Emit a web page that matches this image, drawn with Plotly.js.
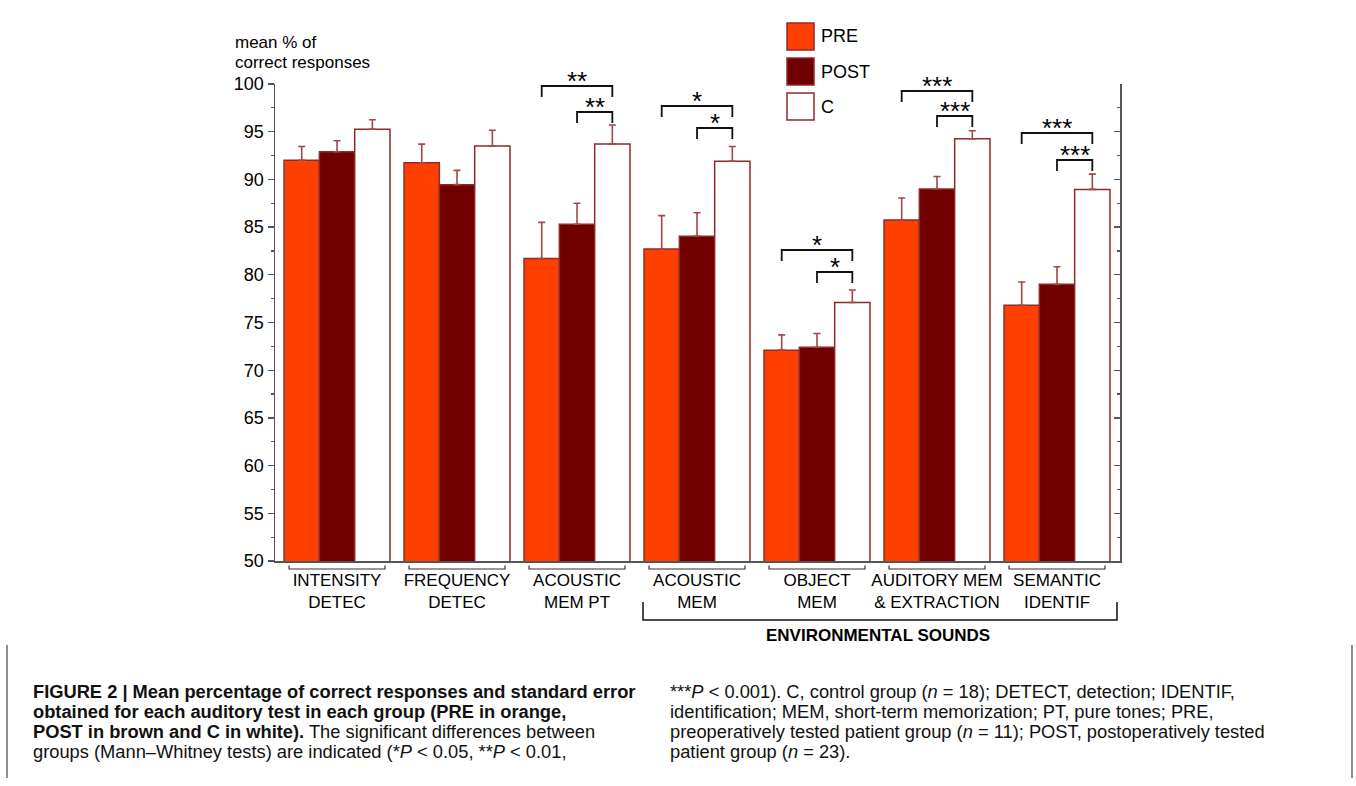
<!DOCTYPE html>
<html>
<head>
<meta charset="utf-8">
<script src="https://cdn.plot.ly/plotly-3.0.1.min.js"></script>
<style>
html,body{margin:0;padding:0;background:#fff;}
#chart{width:1356px;height:786px;}
</style>
</head>
<body>
<div id="chart"></div>
<script>
// ---------------- DATA ----------------
var categories = [
  "INTENSITY<br>DETEC",
  "FREQUENCY<br>DETEC",
  "ACOUSTIC<br>MEM PT",
  "ACOUSTIC<br>MEM",
  "OBJECT<br>MEM",
  "AUDITORY MEM<br>& EXTRACTION",
  "SEMANTIC<br>IDENTIF"
];
var seriesNames = ["PRE", "POST", "C"];
var preMean  = [92.0, 91.75, 81.7, 82.7, 72.1, 85.75, 76.8];
var preSE    = [1.45, 1.95, 3.8, 3.5, 1.6, 2.3, 2.45];
var postMean = [92.9, 89.45, 85.3, 84.05, 72.4, 89.0, 79.0];
var postSE   = [1.15, 1.5, 2.2, 2.45, 1.45, 1.3, 1.85];
var cMean    = [95.25, 93.5, 93.7, 91.9, 77.1, 94.25, 88.95];
var cSE      = [1.0, 1.65, 2.0, 1.55, 1.3, 0.85, 1.6];
// significance: category index, from series index, to series index, label
var sigCategory = [2, 2, 3, 3, 4, 4, 5, 5, 6, 6];
var sigFrom     = [0, 1, 0, 1, 0, 1, 0, 1, 0, 1];
var sigTo       = [2, 2, 2, 2, 2, 2, 2, 2, 2, 2];
var sigLabel    = ["**", "**", "*", "*", "*", "*", "***", "***", "***", "***"];
var groupLabel  = "ENVIRONMENTAL SOUNDS";
var groupStart  = 3, groupEnd = 6;
var yTitleLines = ["mean % of", "correct responses"];
var captionLeft = [
  "<b>FIGURE 2 | Mean percentage of correct responses and standard error</b>",
  "<b>obtained for each auditory test in each group (PRE in orange,</b>",
  "<b>POST in brown and C in white).</b> The significant differences between",
  "groups (Mann\u2013Whitney tests) are indicated (*<i>P</i> < 0.05, **<i>P</i> < 0.01,"
];
var captionRight = [
  "***<i>P</i> < 0.001). C, control group (<i>n</i> = 18); DETECT, detection; IDENTIF,",
  "identification; MEM, short-term memorization; PT, pure tones; PRE,",
  "preoperatively tested patient group (<i>n</i> = 11); POST, postoperatively tested",
  "patient group (<i>n</i> = 23)."
];

// ---------------- LAYOUT GEOMETRY ----------------
var W = 1356, H = 786;
var L = 275, R = 1120, T = 84, B = 561;
function px(x){ return (x - L) / (R - L); }
function py(y){ return (B - y) / (B - T); }
var bargap = 0.117;
var barW = (1 - bargap) / 3;
function barX(cat, s){ return cat + (s - 1) * barW; }

var idx = categories.map(function(_, i){ return i; });
var fills = ["#ff4000", "#700000", "#ffffff"];
var edge = "#8e2a2a";
var errCol = "#a34646";
var means = [preMean, postMean, cMean];
var ses = [preSE, postSE, cSE];

var traces = seriesNames.map(function(name, s){
  return {
    type: "bar",
    name: name,
    x: idx,
    y: means[s],
    base: 0,
    marker: {color: fills[s], line: {color: edge, width: 1.5}},
    error_y: {type: "data", symmetric: false, array: ses[s],
              arrayminus: ses[s].map(function(){ return 0; }),
              color: errCol, thickness: 1.6, width: 3.5},
    showlegend: false,
    hoverinfo: "y"
  };
});
traces.push({type: "scatter", x: [null], y: [null], yaxis: "y2", showlegend: false, hoverinfo: "skip"});

var shapes = [], annotations = [];
var font = "Liberation Sans, Arial, sans-serif";

// bracket levels (pixel y of horizontal line) for each significance entry
var sigLevels = [86, 112, 106, 128, 250, 272, 91, 116, 133, 160];
var drop = 11;
sigCategory.forEach(function(c, k){
  var x0 = barX(c, sigFrom[k]), x1 = barX(c, sigTo[k]);
  var yl = py(sigLevels[k]), yd = py(sigLevels[k] + drop);
  shapes.push({type: "path", xref: "x", yref: "paper",
    path: "M" + x0 + "," + yd + " L" + x0 + "," + yl + " L" + x1 + "," + yl + " L" + x1 + "," + yd,
    line: {color: "#111", width: 1.8}});
  annotations.push({xref: "x", yref: "paper", x: (x0 + x1) / 2, y: yl, yanchor: "bottom",
    yshift: -12, text: sigLabel[k], showarrow: false,
    font: {family: font, size: 26, color: "#000"}});
});

// small brackets under each category
idx.forEach(function(c){
  var x0 = c - 0.4, x1 = c + 0.4;
  var yb = py(569), yt = py(565.5);
  shapes.push({type: "path", xref: "x", yref: "paper",
    path: "M" + x0 + "," + yt + " L" + x0 + "," + yb + " L" + x1 + "," + yb + " L" + x1 + "," + yt,
    line: {color: "#333", width: 1.2}});
});

// environmental sounds bracket
(function(){
  var x0 = groupStart - 0.45, x1 = groupEnd + 0.5;
  var yb = py(620), yt = py(602);
  shapes.push({type: "path", xref: "x", yref: "paper",
    path: "M" + x0 + "," + yt + " L" + x0 + "," + yb + " L" + x1 + "," + yb + " L" + x1 + "," + yt,
    line: {color: "#111", width: 1.5}});
  annotations.push({xref: "x", yref: "paper", x: (x0 + x1) / 2 - 0.02, y: py(635), yanchor: "middle",
    text: "<b>" + groupLabel + "</b>", showarrow: false,
    font: {family: font, size: 17, color: "#000"}});
})();

// y title (two lines)
yTitleLines.forEach(function(t, i){
  annotations.push({xref: "paper", yref: "paper", x: px(233), y: py(43 + i * 19),
    xanchor: "left", yanchor: "middle", text: t, showarrow: false,
    font: {family: font, size: 17, color: "#000"}});
});

// custom legend
seriesNames.forEach(function(n, s){
  var top = [23, 58, 93][s];
  shapes.push({type: "rect", xref: "paper", yref: "paper",
    x0: px(787), x1: px(814), y0: py(top), y1: py(top + 27),
    fillcolor: fills[s], line: {color: edge, width: 1.5}});
  annotations.push({xref: "paper", yref: "paper", x: px(819), y: py(top + 13.5),
    xanchor: "left", yanchor: "middle", text: n, showarrow: false,
    font: {family: font, size: 18, color: "#000"}});
});

// caption
var capFont = "Liberation Sans Narrow, Arial Narrow, Liberation Sans, sans-serif";
captionLeft.forEach(function(t, i){
  annotations.push({xref: "paper", yref: "paper", x: px(31), y: py(691 + i * 20),
    xanchor: "left", yanchor: "middle", text: t, showarrow: false, align: "left",
    font: {family: capFont, size: 18.3, color: "#111"}});
});
captionRight.forEach(function(t, i){
  annotations.push({xref: "paper", yref: "paper", x: px(668), y: py(691 + i * 20),
    xanchor: "left", yanchor: "middle", text: t, showarrow: false, align: "left",
    font: {family: capFont, size: 18.3, color: "#111"}});
});
// caption frame side lines
shapes.push({type: "line", xref: "paper", yref: "paper", x0: px(7), x1: px(7), y0: py(645), y1: py(778), line: {color: "#444", width: 1.2}});
shapes.push({type: "line", xref: "paper", yref: "paper", x0: px(1352), x1: px(1352), y0: py(645), y1: py(778), line: {color: "#444", width: 1.2}});

var layout = {
  width: W, height: H,
  margin: {l: L, r: W - R, t: T, b: H - B, pad: 0},
  paper_bgcolor: "#fff", plot_bgcolor: "#fff",
  barmode: "group", bargap: bargap, bargroupgap: 0,
  showlegend: false,
  font: {family: font, size: 17, color: "#000"},
  xaxis: {
    range: [-0.517, 6.525], tickvals: idx, ticktext: categories,
    ticks: "", showgrid: false, zeroline: false, ticklabelstandoff: 3,
    showline: true, linecolor: "#555", linewidth: 1.5,
    tickfont: {family: font, size: 17, color: "#000"}, fixedrange: true
  },
  yaxis: {
    range: [50, 100], tickvals: [50,55,60,65,70,75,80,85,90,95,100],
    ticks: "outside", ticklen: 6, tickwidth: 1.3, tickcolor: "#555",
    minor: {dtick: 2.5, ticks: "outside", ticklen: 3, tickcolor: "#555", tickwidth: 1.2},
    showgrid: false, zeroline: false, showline: true, linecolor: "#555", linewidth: 1.5,
    tickfont: {family: font, size: 18, color: "#000"}, fixedrange: true
  },
  yaxis2: {
    range: [50, 100], overlaying: "y", side: "right", anchor: "x",
    tickvals: [50,55,60,65,70,75,80,85,90,95,100], showticklabels: false,
    ticks: "inside", ticklen: 6, tickwidth: 1.3, tickcolor: "#555",
    minor: {dtick: 2.5, ticks: "inside", ticklen: 3, tickcolor: "#555", tickwidth: 1.2},
    showgrid: false, zeroline: false, showline: true, linecolor: "#555", linewidth: 1.5,
    fixedrange: true
  },
  shapes: shapes,
  annotations: annotations
};

Plotly.newPlot("chart", traces, layout, {displayModeBar: false, staticPlot: true});
</script>
</body>
</html>
